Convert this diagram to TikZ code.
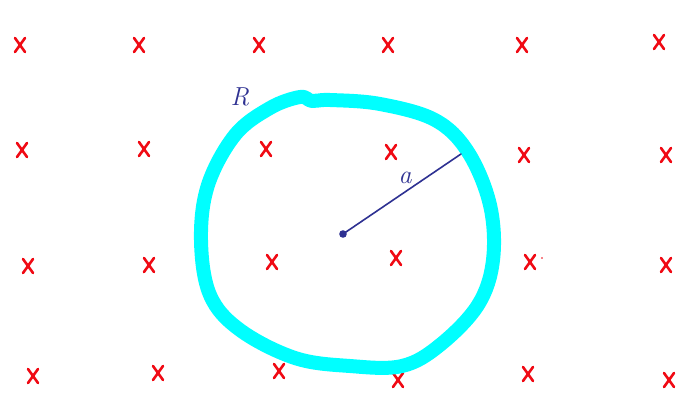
\documentclass[tikz,border=0pt]{standalone}
\usetikzlibrary{calc}
\definecolor{fieldred}{RGB}{240,10,20}
\definecolor{loopcyan}{RGB}{0,255,255}
\definecolor{inkblue}{RGB}{46,49,146}
\tikzset{
  xmark/.style={draw=fieldred, line width=2.6pt, line cap=round},
  loopline/.style={draw=loopcyan, line width=14pt, line cap=round, line join=round},
  inkline/.style={draw=inkblue, line width=1.6pt, line cap=round},
  inktext/.style={text=inkblue, font=\itshape\fontsize{26}{28}\selectfont, inner sep=0pt}
}
\newcommand{\fieldx}[3]{% name, x, y
  \coordinate (#1) at (#2,#3);
  \draw[xmark] ($(#1)+(-5,-7)$) -- ($(#1)+(5,7)$);
  \draw[xmark] ($(#1)+(5,-7)$) -- ($(#1)+(-5,7)$);
}
\begin{document}
\begin{tikzpicture}[x=1pt,y=-1pt]
\useasboundingbox (0,0) rectangle (686,402);
\fill[white] (0,0) rectangle (686,402);
% row 1
\fieldx{a1}{20}{45}\fieldx{a2}{139}{45}\fieldx{a3}{259}{45}
\fieldx{a4}{388}{45}\fieldx{a5}{522}{45}\fieldx{a6}{659}{42}
% row 2
\fieldx{b1}{22}{150}\fieldx{b2}{144}{149}\fieldx{b3}{266}{149}
\fieldx{b4}{391}{152}\fieldx{b5}{524}{155}\fieldx{b6}{666}{155}
% row 3
\fieldx{c1}{28}{266}\fieldx{c2}{149}{265}\fieldx{c3}{272}{262}
\fieldx{c4}{396}{258}\fieldx{c5}{530}{262}\fieldx{c6}{666}{265}
% row 4
\fieldx{d1}{33}{376}\fieldx{d2}{158}{373}\fieldx{d3}{279}{371}
\fieldx{d4}{398}{380}\fieldx{d5}{528}{374}\fieldx{d6}{669}{380}
\fill[fieldred] (542,258) circle (0.8);
% current loop
\draw[loopline] plot[smooth cycle, tension=0.6] coordinates {
  (300,97) (312,101) (330,100) (380,104) (435,120) (468,152)
  (490,205) (493,260) (478,305) (440,345) (402,366) (350,366)
  (295,358) (240,330) (210,295) (201,240) (208,185) (235,135) (270,108)};
% radius
\coordinate (centre) at (343,234);
\coordinate (rim) at (461,154);
\fill[inkblue] (centre) circle (3.8);
\draw[inkline] (centre) -- (rim);
\node[inktext] (alabel) at (405,178) {a};
\node[inktext] (Rlabel) at (240,97) {R};
\end{tikzpicture}
\end{document}
